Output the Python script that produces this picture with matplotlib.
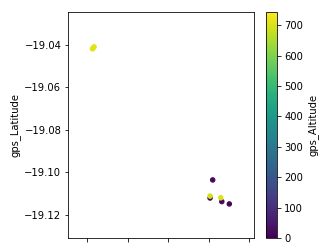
import matplotlib
matplotlib.use("Agg")
import matplotlib.pyplot as plt
import numpy as np

gps_Longitude = [146.7625, 146.7629, 146.7633,
                 146.8219, 146.8206, 146.8206, 146.8264, 146.8259, 146.8301]
gps_Latitude = [-19.0418, -19.0414, -19.0409,
                -19.1035, -19.1120, -19.1111, -19.1137, -19.1119, -19.1148]
gps_Altitude = [705, 710, 708,
                15, 20, 690, 12, 700, 10]

fig = plt.figure(figsize=(327 / 72, 251 / 72), dpi=72)
ax = fig.add_axes([0.209, 0.052, 0.569, 0.900])
cax = fig.add_axes([0.813, 0.052, 0.035, 0.900])

sc = ax.scatter(gps_Longitude, gps_Latitude, c=gps_Altitude, cmap="viridis",
                s=20, vmin=0, vmax=743)
ax.set_xlim(146.7506, 146.8425)
ax.set_ylim(-19.1308, -19.0245)
ax.set_xticks([146.76, 146.78, 146.80, 146.82, 146.84])
ax.set_yticks([-19.12, -19.10, -19.08, -19.06, -19.04])
ax.set_yticklabels(["\u221219.12", "\u221219.10", "\u221219.08", "\u221219.06", "\u221219.04"])
ax.tick_params(labelbottom=False)
ax.set_ylabel("gps_Latitude")

cb = fig.colorbar(sc, cax=cax)
cb.set_ticks([0, 100, 200, 300, 400, 500, 600, 700])
cb.set_label("gps_Altitude")

fig.savefig("out.png", dpi=72)
